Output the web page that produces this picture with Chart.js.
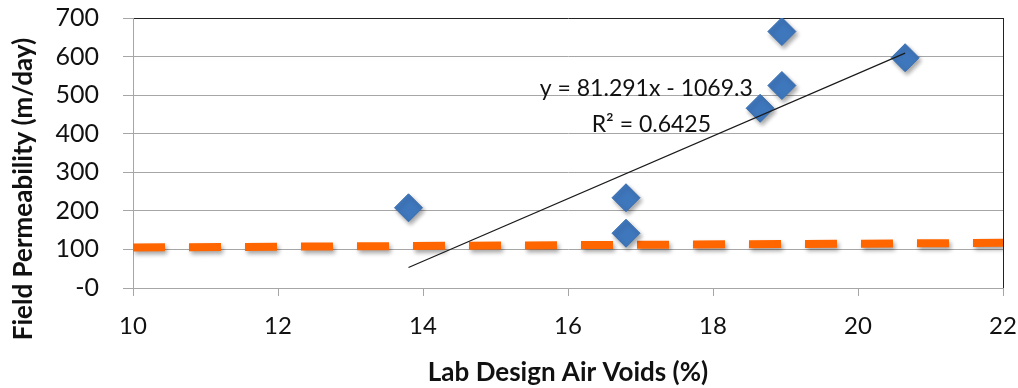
<!DOCTYPE html>
<html>
<head>
<meta charset="utf-8">
<script src="https://cdn.jsdelivr.net/npm/chart.js@4"></script>
<style>
  html, body { margin: 0; padding: 0; background: #fff; }
  #wrap { width: 1018px; height: 388px; }
</style>
</head>
<body>
<div id="wrap"><canvas id="chart" width="1018" height="388"></canvas></div>
<script>
// data
const airVoids = [13.8, 16.8, 16.8, 18.65, 18.95, 18.95, 20.65];
const permeability = [208, 234, 142, 466, 525, 665, 597];

// trend line end points (y = 81.291x - 1069.3)
const trendX = [13.8, 20.65];
const trendY = [53, 609];

// orange dashed reference line
const refX = [10, 22];
const refY = [105, 117];

const yTicks = [0, 100, 200, 300, 400, 500, 600, 700];
const xTicks = [10, 12, 14, 16, 18, 20, 22];

const eqText = "y = 81.291x - 1069.3";
const r2Text = "R\u00b2 = 0.6425";
const yTitle = "Field Permeability (m/day)";

const FONT = "Lato, 'Open Sans', sans-serif";

// shadow under diamonds and dashes (excel style)
const shadowPlugin = {
  id: "shadow",
  beforeDatasetDraw(chart, args) {
    if (args.index === 1) return;
    const ctx = chart.ctx;
    ctx.save();
    ctx.shadowColor = "rgba(0,0,0,0.35)";
    ctx.shadowBlur = 4;
    ctx.shadowOffsetX = 2;
    ctx.shadowOffsetY = 3;
  },
  afterDatasetDraw(chart, args) {
    if (args.index === 1) return;
    chart.ctx.restore();
  }
};

// trendline label + y title
const labelPlugin = {
  id: "eqLabel",
  afterDatasetsDraw(chart) {
    const ctx = chart.ctx;
    const xs = chart.scales.x, ys = chart.scales.y;
    ctx.save();
    ctx.fillStyle = "#111";
    ctx.font = "23px " + FONT;
    ctx.textAlign = "center";
    ctx.textBaseline = "middle";
    ctx.fillText(eqText, xs.getPixelForValue(17.08), ys.getPixelForValue(518));
    ctx.fillText(r2Text, xs.getPixelForValue(17.15), ys.getPixelForValue(424));
    ctx.restore();

    ctx.save();
    ctx.fillStyle = "#111";
    ctx.font = "bold 26px " + FONT;
    ctx.textAlign = "center";
    ctx.textBaseline = "middle";
    ctx.translate(24, 189);
    ctx.rotate(-Math.PI / 2);
    ctx.fillText(yTitle, 0, 0);
    ctx.restore();
  }
};

const ctx = document.getElementById("chart").getContext("2d");

new Chart(ctx, {
  type: "scatter",
  data: {
    datasets: [
      {
        label: "Field",
        data: airVoids.map((x, i) => ({ x: x, y: permeability[i] })),
        pointStyle: "rectRot",
        pointRadius: 14,
        pointHoverRadius: 14,
        backgroundColor: "#3f77bd",
        borderColor: "#3a6fb0",
        borderWidth: 1,
        order: 1
      },
      {
        label: "Trend",
        type: "line",
        data: trendX.map((x, i) => ({ x: x, y: trendY[i] })),
        borderColor: "#1a1a1a",
        borderWidth: 1.2,
        pointRadius: 0,
        fill: false,
        order: 0
      },
      {
        label: "Reference",
        type: "line",
        data: refX.map((x, i) => ({ x: x, y: refY[i] })),
        borderColor: "#ff6600",
        borderWidth: 8,
        borderDash: [32, 24],
        borderCapStyle: "butt",
        pointRadius: 0,
        fill: false,
        order: 2
      }
    ]
  },
  options: {
    responsive: false,
    animation: false,
    events: [],
    layout: { padding: { top: 18, right: 15, left: 0, bottom: 0 } },
    plugins: {
      legend: { display: false },
      tooltip: { enabled: false }
    },
    scales: {
      x: {
        type: "linear",
        min: 10,
        max: 22,
        afterBuildTicks: (scale) => { scale.ticks = xTicks.map(v => ({ value: v })); },
        afterFit: (scale) => {
          scale.height = 100;
          scale.paddingLeft = 0;
          scale.paddingRight = 0;
        },
        border: { display: true, color: "#a6a6a6", width: 1 },
        grid: {
          drawOnChartArea: true,
          color: (c) => (c.tick && c.tick.value === 22 ? "#222" : "rgba(0,0,0,0)"),
          tickColor: "#a6a6a6",
          tickLength: 8
        },
        ticks: {
          color: "#111",
          font: { family: FONT, size: 24 },
          padding: 16,
          maxRotation: 0
        },
        title: {
          display: true,
          text: "Lab Design Air Voids (%)",
          color: "#111",
          font: { family: FONT, size: 26, weight: "bold" },
          padding: { top: 8, bottom: 0 }
        }
      },
      y: {
        type: "linear",
        min: 0,
        max: 700,
        afterBuildTicks: (scale) => { scale.ticks = yTicks.map(v => ({ value: v })); },
        afterFit: (scale) => {
          scale.width = 133;
          scale.paddingTop = 0;
          scale.paddingBottom = 0;
        },
        border: { display: true, color: "#a6a6a6", width: 1 },
        grid: {
          color: (c) => (c.tick && c.tick.value === 700 ? "#222" : "#a6a6a6"),
          tickColor: "#a6a6a6",
          tickLength: 10
        },
        ticks: {
          color: "#111",
          font: { family: FONT, size: 25 },
          padding: 24,
          callback: (v) => (v === 0 ? "-0" : String(v))
        },
        title: { display: false }
      }
    }
  },
  plugins: [shadowPlugin, labelPlugin]
});
</script>
</body>
</html>
